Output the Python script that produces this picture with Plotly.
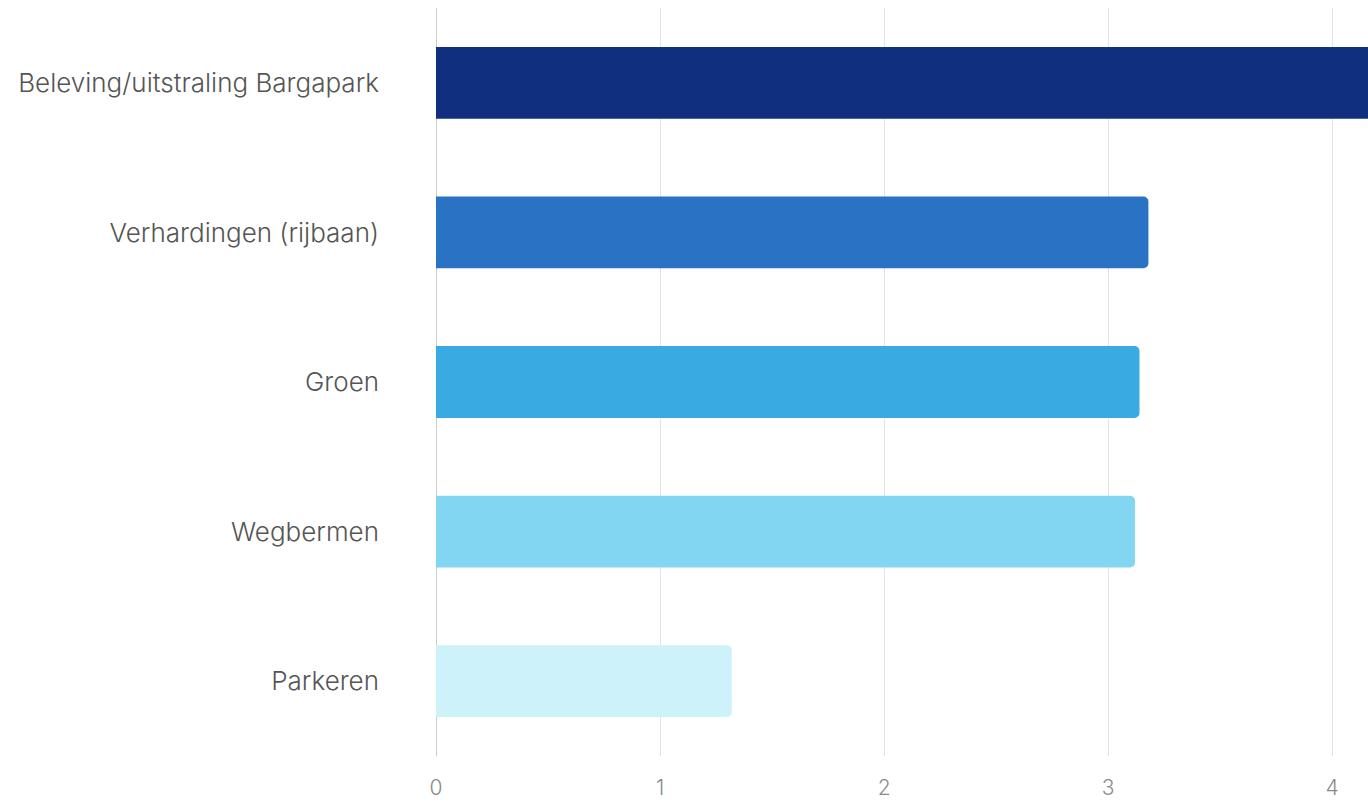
import plotly.graph_objects as go

categories = ["Beleving/uitstraling Bargapark", "Verhardingen (rijbaan)", "Groen", "Wegbermen", "Parkeren"]
values = [4.3, 3.18, 3.14, 3.12, 1.32]
colors = ["#10307F", "#2A72C4", "#3AAAE3", "#82D6F2", "#CDF2F9"]
tick_vals = [0, 1, 2, 3, 4]

fig = go.Figure(go.Bar(
    y=categories, x=values, orientation="h",
    marker=dict(color=colors, cornerradius=5, line=dict(width=0)),
    width=0.48,
))

fig.update_layout(
    width=1368, height=802,
    margin=dict(l=436, r=0, t=8, b=46),
    paper_bgcolor="white", plot_bgcolor="white",
    font=dict(family="Inter", color="#555555", weight=300),
    showlegend=False,
    bargap=0.52,
)
fig.update_xaxes(
    range=[0, 4.16], tickvals=tick_vals, showgrid=True, gridcolor="#e3e3e3", gridwidth=1,
    zeroline=True, zerolinecolor="#cccccc", zerolinewidth=1,
    tickfont=dict(size=21, color="#8a8a8a", weight=300), ticklabelstandoff=17,
    fixedrange=True, automargin=False,
)
fig.update_yaxes(
    categoryorder="array", categoryarray=categories, autorange="reversed",
    tickfont=dict(size=26, color="#555555", weight=300), ticklabelstandoff=56,
    showgrid=False, zeroline=False, automargin=False,
)
fig.write_html(
    "out.html",
    config={"displayModeBar": False},
    post_script="document.body.style.margin='0px'; document.body.style.overflow='hidden';",
)
